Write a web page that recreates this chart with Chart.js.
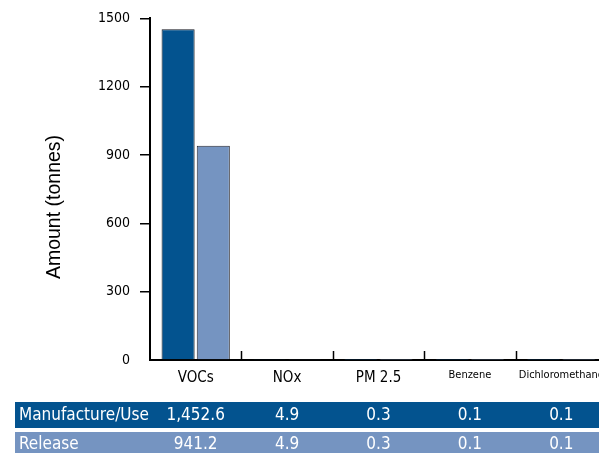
<!DOCTYPE html>
<html>
<head>
<meta charset="utf-8">
<script src="https://cdn.jsdelivr.net/npm/chart.js@4/dist/chart.umd.min.js"></script>
<style>
  html, body { margin: 0; padding: 0; background: #fff; overflow: hidden; }
  #wrap { position: relative; width: 620px; height: 453px; }
</style>
</head>
<body>
<div id="wrap"><canvas id="c"></canvas></div>
<script>
// Emissions by substance, in tonnes
const categories = ['VOCs', 'NOx', 'PM 2.5', 'Benzene', 'Dichloromethane'];
const manufactureUse = [1452.6, 4.9, 0.3, 0.1, 0.1];
const release = [941.2, 4.9, 0.3, 0.1, 0.1];
const seriesNames = ['Manufacture/Use', 'Release'];
const yTickValues = [0, 300, 600, 900, 1200, 1500];
const yTitle = 'Amount (tonnes)';

const DARK = '#03538f';
const LIGHT = '#7594c1';
const NARROW = "'DejaVu Sans Condensed', 'Liberation Sans Narrow', sans-serif";

const fmt = v => v.toLocaleString('en-US', { minimumFractionDigits: 1, maximumFractionDigits: 1 });

// Small upward tick marks between categories on the x axis
const categoryTicks = {
  id: 'categoryTicks',
  afterDatasetsDraw(chart) {
    const { ctx, scales: { x }, chartArea } = chart;
    ctx.save();
    ctx.strokeStyle = '#000';
    ctx.lineWidth = 1.5;
    for (let i = 0; i < categories.length - 1; i++) {
      const px = Math.round((x.getPixelForValue(i) + x.getPixelForValue(i + 1)) / 2) + 0.5;
      ctx.beginPath();
      ctx.moveTo(px, chartArea.bottom);
      ctx.lineTo(px, chartArea.bottom - 9);
      ctx.stroke();
    }
    ctx.restore();
  }
};

// Rotated y-axis title, set a little below the middle of the plot
const axisTitle = {
  id: 'axisTitle',
  afterDraw(chart) {
    const { ctx } = chart;
    ctx.save();
    ctx.translate(55, 207);
    ctx.rotate(-Math.PI / 2);
    ctx.fillStyle = '#000';
    ctx.font = "19.5px 'Liberation Sans', Arial, sans-serif";
    ctx.textAlign = 'center';
    ctx.textBaseline = 'middle';
    ctx.fillText(yTitle, 0, 0);
    ctx.restore();
  }
};

// Data table under the chart, one coloured row per series
const dataTable = {
  id: 'dataTable',
  afterDraw(chart) {
    const { ctx, scales: { x } } = chart;
    const rows = [
      { name: seriesNames[0], values: manufactureUse, color: DARK, top: 402, h: 26, cy: 416 },
      { name: seriesNames[1], values: release, color: LIGHT, top: 432, h: 23, cy: 445 }
    ];
    ctx.save();
    rows.forEach(r => {
      ctx.fillStyle = r.color;
      ctx.fillRect(15, r.top, chart.width - 15, r.h);
      ctx.fillStyle = '#fff';
      ctx.font = '17px ' + NARROW;
      ctx.textBaseline = 'middle';
      ctx.textAlign = 'left';
      ctx.fillText(r.name, 19, r.cy);
      ctx.textAlign = 'center';
      r.values.forEach((v, i) => ctx.fillText(fmt(v), x.getPixelForValue(i), r.cy));
    });
    ctx.restore();
  }
};

new Chart(document.getElementById('c'), {
  type: 'bar',
  data: {
    labels: categories,
    datasets: [
      { label: seriesNames[0], data: manufactureUse, backgroundColor: DARK, borderColor: '#14161f', borderWidth: 1 },
      { label: seriesNames[1], data: release, backgroundColor: LIGHT, borderColor: '#262830', borderWidth: 1 }
    ]
  },
  options: {
    responsive: true,
    maintainAspectRatio: false,
    animation: false,
    devicePixelRatio: 1,
    categoryPercentage: 0.77,
    barPercentage: 0.94,
    layout: { padding: { left: 0, top: 18, right: 13, bottom: 63 } },
    plugins: { legend: { display: false }, tooltip: { enabled: false } },
    scales: {
      x: {
        grid: { display: false, drawTicks: false },
        border: { display: true, color: '#000', width: 2 },
        ticks: {
          autoSkip: false,
          maxRotation: 0,
          minRotation: 0,
          padding: 9,
          color: '#000',
          font: ctx => ({ family: NARROW, size: ctx.index >= 3 ? 11 : 15 })
        },
        afterFit(scale) { scale.height = 30; }
      },
      y: {
        min: 0,
        max: 1500,
        afterBuildTicks(scale) { scale.ticks = yTickValues.map(v => ({ value: v })); },
        grid: {
          drawOnChartArea: false,
          drawTicks: true,
          tickLength: 10,
          color: ctx => (ctx.tick && ctx.tick.value === 0 ? 'rgba(0,0,0,0)' : '#000'),
          lineWidth: 1.5
        },
        border: { display: true, color: '#000', width: 2 },
        ticks: {
          padding: 10,
          color: '#000',
          font: { family: NARROW, size: 14 },
          callback: v => String(v)
        },
        afterFit(scale) { scale.width = 150; }
      }
    }
  },
  plugins: [categoryTicks, axisTitle, dataTable]
});
</script>
</body>
</html>
